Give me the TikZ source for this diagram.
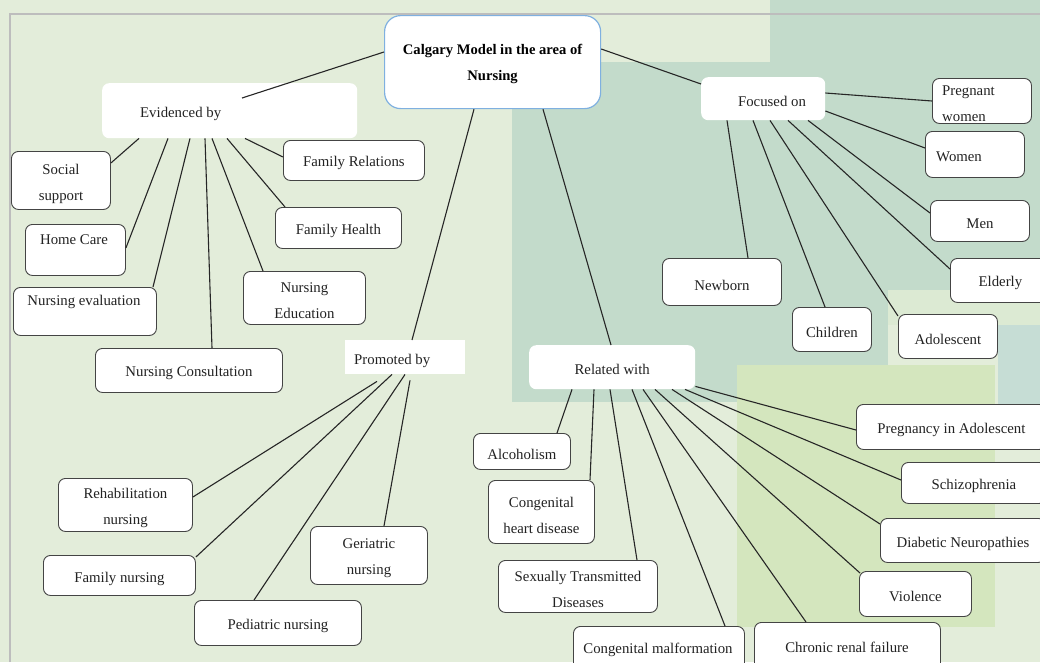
\documentclass[tikz,border=0pt]{standalone}
\usepackage{fontspec}
\setmainfont{Liberation Serif}
\usetikzlibrary{backgrounds}
\definecolor{bgbase}{HTML}{E3EDDA}
\definecolor{bgdark}{HTML}{C3DBCB}
\definecolor{bgyel}{HTML}{D4E6BE}
\definecolor{bgblue}{HTML}{C6DDD5}
\definecolor{bgpale}{HTML}{DCEAD3}
\definecolor{framegray}{HTML}{BDBDBD}
\definecolor{rootblue}{HTML}{7FB0E0}
\definecolor{boxline}{HTML}{444444}
\definecolor{txtcol}{HTML}{222222}
\newcommand\mytxt{\fontsize{14.8}{26}\selectfont}
\newcommand\myroot{\fontsize{14.6}{26}\selectfont\bfseries}
\tikzset{
  bx/.style={draw=boxline, line width=0.9pt, rounded corners=7pt, fill=white,
    inner sep=0pt, anchor=north west},
  pl/.style={fill=white, rounded corners=7pt, inner sep=0pt, anchor=north west},
  lbl/.style={inner sep=0pt, font=\mytxt, align=left, text=txtcol},
  ctr/.style={inner sep=0pt, font=\mytxt, align=center, text=txtcol, yshift=-3pt},
  con/.style={draw=black!85, line width=1.1pt}
}
% box with centred text: name, x, y, width, height, text
\newcommand\bxn[6]{\node[bx, minimum width=#4pt, minimum height=#5pt,
  label={[ctr]center:{#6}}] (#1) at (#2,#3) {};}
\begin{document}
\begin{tikzpicture}[x=1pt,y=-1pt]
\useasboundingbox (0,0) rectangle (1040,662);
\clip (0,0) rectangle (1040,662);
% background
\fill[bgbase] (0,0) rectangle (1040,662);
\fill[bgdark] (770,0) rectangle (1040,290);
\fill[bgpale] (880,290) rectangle (1040,325);
\fill[bgdark] (512,62) rectangle (888,402);
\fill[bgblue] (998,325) rectangle (1040,440);
\fill[bgyel] (737,365) rectangle (995,627);
\draw[framegray, line width=1.5pt] (10,662) -- (10,14) -- (1040,14);

% root
\node[draw=rootblue, line width=1.2pt, rounded corners=16pt, fill=white, inner sep=0pt,
  anchor=north west, minimum width=216pt, minimum height=93pt,
  label={[inner sep=0pt, align=center, font=\myroot, text=black, yshift=-2pt]center:{Calgary Model in the area of\\Nursing}}] (root) at (384,15) {};

% Evidenced by branch
\node[pl, minimum width=255pt, minimum height=55pt] (evid) at (102,83) {};
\node[lbl, anchor=west] (evidt) at (140,113.5) {Evidenced by};
\bxn{famrel}{283}{140}{141}{40}{Family Relations}
\bxn{social}{11}{151}{99}{58}{Social\\support}
\node[bx, minimum width=100pt, minimum height=51pt] (home) at (25,224) {};
\node[lbl] (homet) at (74,239.5) {Home Care};
\bxn{famhealth}{275}{207}{126}{41}{Family Health}
\node[bx, minimum width=143pt, minimum height=48pt] (neval) at (13,287) {};
\node[lbl] (nevalt) at (84,301.5) {Nursing evaluation};
\bxn{nedu}{243}{271}{122}{53}{Nursing\\Education}
\bxn{ncons}{95}{348}{187}{44}{Nursing Consultation}

% Promoted by branch
\node[fill=white, inner sep=0pt, anchor=north west, minimum width=120pt, minimum height=34pt] (prom) at (345,340) {};
\node[lbl, anchor=west] (promt) at (354,360.5) {Promoted by};
\bxn{rehab}{58}{478}{134}{53}{Rehabilitation\\nursing}
\bxn{famn}{43}{555}{152}{40}{Family nursing}
\bxn{ped}{194}{600}{167}{45}{Pediatric nursing}
\bxn{ger}{310}{526}{117}{58}{Geriatric\\nursing}

% Focused on branch
\node[pl, minimum width=124pt, minimum height=43pt] (focus) at (701,77) {};
\node[lbl] (focust) at (772,101) {Focused on};
\node[bx, minimum width=99pt, minimum height=45pt] (preg) at (932,78) {};
\begin{scope}
\clip[rounded corners=7pt] (932,78) rectangle (1031,123);
\node[lbl, anchor=west] (pregt) at (942,103.5) {Pregnant\\women};
\end{scope}
\node[bx, minimum width=99pt, minimum height=46pt] (women) at (925,131) {};
\node[lbl, anchor=west] (woment) at (936,157) {Women};
\bxn{men}{930}{200}{99}{41}{Men}
\bxn{elderly}{950}{258}{100}{44}{Elderly}
\bxn{newborn}{662}{258}{119}{47}{Newborn}
\bxn{children}{792}{307}{79}{44}{Children}
\bxn{adol}{898}{314}{99}{44}{Adolescent}

% Related with branch
\node[pl, minimum width=166pt, minimum height=44pt, label={[ctr, yshift=1pt]center:{Related with}}] (rel) at (529,345) {};
\bxn{alc}{473}{433}{97}{36}{Alcoholism}
\bxn{chd}{488}{480}{106}{63}{Congenital\\heart disease}
\bxn{std}{498}{560}{159}{52}{Sexually Transmitted\\Diseases}
\node[bx, minimum width=171pt, minimum height=50pt] (cmal) at (573,626) {};
\node[lbl] (cmalt) at (658,649.5) {Congenital malformation};
\node[bx, minimum width=186pt, minimum height=50pt] (crf) at (754,622) {};
\node[lbl] (crft) at (847,647) {Chronic renal failure};
\bxn{pia}{856}{404}{190}{45}{Pregnancy in Adolescent}
\bxn{schiz}{901}{462}{145}{41}{Schizophrenia}
\bxn{diab}{880}{518}{165}{44}{Diabetic Neuropathies}
\bxn{viol}{859}{571}{112}{45}{Violence}

% connectors from root
\draw[con] ([yshift=-37pt]root.north west) -- ([xshift=140pt,yshift=-15pt]evid.north west);
\draw[con] ([xshift=90pt]root.south west) -- ([xshift=67pt]prom.north west);
\draw[con] ([xshift=159pt]root.south west) -- ([xshift=82pt]rel.north west);
\draw[con] ([yshift=-34pt]root.north east) -- ([yshift=-7pt]focus.north west);

% Evidenced by children
\draw[con] ([xshift=37pt]evid.south west) -- ([yshift=-12pt]social.north east);
\draw[con] ([xshift=66pt]evid.south west) -- ([yshift=-24pt]home.north east);
\draw[con] ([xshift=88pt]evid.south west) -- ([xshift=140pt]neval.north west);
\draw[con] ([xshift=103pt]evid.south west) -- ([xshift=117pt]ncons.north west);
\draw[con] ([xshift=110pt]evid.south west) -- ([xshift=20pt]nedu.north west);
\draw[con] ([xshift=125pt]evid.south west) -- ([xshift=10pt]famhealth.north west);
\draw[con] ([xshift=143pt]evid.south west) -- ([yshift=-17pt]famrel.north west);

% Focused on children
\draw[con] ([yshift=-16pt]focus.north east) -- ([yshift=-23pt]preg.north west);
\draw[con] ([yshift=-34pt]focus.north east) -- ([yshift=-17pt]women.north west);
\draw[con] ([xshift=107pt]focus.south west) -- ([yshift=-13pt]men.north west);
\draw[con] ([xshift=87pt]focus.south west) -- ([yshift=-11pt]elderly.north west);
\draw[con] ([xshift=69pt]focus.south west) -- ([yshift=-2pt]adol.north west);
\draw[con] ([xshift=52pt]focus.south west) -- ([xshift=33pt]children.north west);
\draw[con] ([xshift=26pt]focus.south west) -- ([xshift=86pt]newborn.north west);

% Promoted by children
\draw[con] ([xshift=32pt,yshift=-7pt]prom.south west) -- ([yshift=-19pt]rehab.north east);
\draw[con] ([xshift=47pt]prom.south west) -- ([yshift=-2pt]famn.north east);
\draw[con] ([xshift=60pt]prom.south west) -- ([xshift=60pt]ped.north west);
\draw[con] ([xshift=65pt,yshift=-6pt]prom.south west) -- ([xshift=74pt]ger.north west);

% Related with children
\draw[con] ([xshift=43pt]rel.south west) -- ([xshift=84pt]alc.north west);
\draw[con] ([xshift=65pt]rel.south west) -- ([xshift=102pt]chd.north west);
\draw[con] ([xshift=81pt]rel.south west) -- ([xshift=139pt]std.north west);
\draw[con] ([xshift=103pt]rel.south west) -- ([xshift=152pt]cmal.north west);
\draw[con] ([xshift=114pt]rel.south west) -- ([xshift=52pt]crf.north west);
\draw[con] ([xshift=126pt]rel.south west) -- ([xshift=1pt,yshift=-2pt]viol.north west);
\draw[con] ([xshift=143pt]rel.south west) -- ([yshift=-6pt]diab.north west);
\draw[con] ([xshift=156pt]rel.south west) -- ([yshift=-18pt]schiz.north west);
\draw[con] ([yshift=3pt]rel.south east) -- ([yshift=-26pt]pia.north west);
\end{tikzpicture}
\end{document}
